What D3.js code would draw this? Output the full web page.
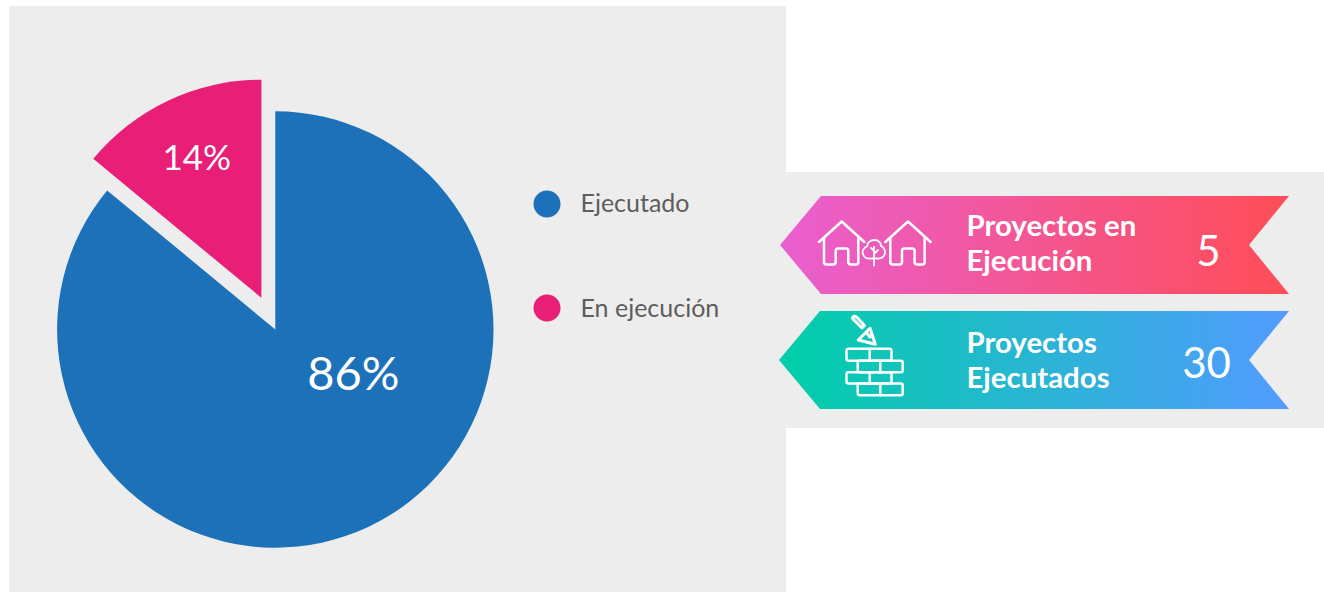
<!DOCTYPE html>
<html><head><meta charset="utf-8">
<script src="https://cdn.jsdelivr.net/npm/d3@7"></script>
<style>html,body{margin:0;padding:0;background:#fff;overflow:hidden}svg{display:block}text{font-family:Lato,sans-serif}</style>
</head><body><svg id="c" width="1324" height="592"></svg>
<script>
const categories = ["Ejecutado", "En ejecución"];
const shares = [86, 14];
const shareLabels = ["86%", "14%"];
const sliceColors = ["#1d71b8", "#e91e76"];
const ribbonLines = [["Proyectos en", "Ejecución"], ["Proyectos", "Ejecutados"]];
const ribbonValues = [5, 30];
const ribbonGradients = [["#e95fd0", "#ff4d57"], ["#00cfa8", "#529bff"]];

const svg = d3.select("#c");
const bg = "#ededed";
svg.append("rect").attr("x",9).attr("y",6).attr("width",777).attr("height",586).attr("fill",bg);
svg.append("rect").attr("x",786).attr("y",172).attr("width",538).attr("height",256).attr("fill",bg);

// Pie
const cx=275.3, cy=329.5, R=218.2, explode=35;
const arcs = d3.pie().sort(null).value(d=>d)(shares);
const arc = d3.arc().innerRadius(0).outerRadius(R);
const pie = svg.append("g").attr("transform",`translate(${cx},${cy})`);
const labelOffsets = [[78,60],[-78.5,-160]];
arcs.forEach((a,i)=>{
  const mid=(a.startAngle+a.endAngle)/2;
  const d = i===1?explode:0;
  const g = pie.append("g").attr("transform",`translate(${Math.sin(mid)*d+(i?1:0)},${-Math.cos(mid)*d})`);
  g.append("path").attr("d",arc(a)).attr("fill",sliceColors[i]);
});
const labelSizes=[47,35];
arcs.forEach((a,i)=>{
  pie.append("text").attr("x",labelOffsets[i][0]).attr("y",labelOffsets[i][1])
    .attr("text-anchor","middle").attr("fill","#fff").attr("font-size",labelSizes[i]).text(shareLabels[i]);
});

// Legend
const legendY = d3.scalePoint().domain(categories).range([204,308]);
categories.forEach((c,i)=>{
  svg.append("circle").attr("cx",547).attr("cy",legendY(c)).attr("r",13.5).attr("fill",sliceColors[i]);
  svg.append("text").attr("x",580.5).attr("y",legendY(c)+8+i).attr("font-size",25).attr("fill","#5e5e5d").text(c);
});

// Ribbons
const defs = svg.append("defs");
const ribbonShapes=[
  {l:780,n:821,r:1289,k:1249,t:196,b:294,ty:236,vy:266,vx:1208.5},
  {l:779,n:820,r:1289,k:1249,t:311,b:409,ty:352.5,vy:378,vx:1206.5}];
const ribbonLine=d3.line();
ribbonShapes.forEach((s,i)=>{
  const id="rg"+i;
  const lg=defs.append("linearGradient").attr("id",id).attr("gradientUnits","userSpaceOnUse")
    .attr("x1",s.l).attr("x2",s.r).attr("y1",0).attr("y2",0);
  lg.append("stop").attr("offset",0).attr("stop-color",ribbonGradients[i][0]);
  lg.append("stop").attr("offset",1).attr("stop-color",ribbonGradients[i][1]);
  const m=(s.t+s.b)/2;
  svg.append("path").attr("d",ribbonLine([[s.l,m],[s.n,s.t],[s.r,s.t],[s.k,m],[s.r,s.b],[s.n,s.b]])+"Z").attr("fill",`url(#${id})`);
  ribbonLines[i].forEach((t,j)=>{
    svg.append("text").attr("x",966.5).attr("y",s.ty+j*35).attr("font-size",29.4).attr("font-weight",700).attr("fill","#fff").text(t);
  });
  svg.append("text").attr("x",s.vx).attr("y",s.vy).attr("text-anchor","middle").attr("font-size",42).attr("fill","#fff").text(ribbonValues[i]);
});

// Icons
const ic = svg.append("g").attr("fill","none").attr("stroke","#fff").attr("stroke-width",2.5).attr("stroke-linecap","round").attr("stroke-linejoin","round");
const house="M819,242 L841.7,221.5 L864.3,242 M824,238 V262 Q824,264.5 826.5,264.5 H833 Q835.7,264.5 835.7,262 V251 Q835.7,248.5 838,248.5 H846 Q848.3,248.5 848.3,251 V262 Q848.3,264.5 851,264.5 H856 Q858.3,264.5 858.3,262 V238";
ic.append("path").attr("d",house);
ic.append("path").attr("d",house).attr("transform","translate(66.3,0)");
ic.append("path").attr("stroke-width",1.8).attr("d","M874,240 C869,240 867,244 867.5,246 C863,248 862,252 863,254 C864,258 868,259 871,258.5 C873,258.5 875,258.5 877,258.5 C881,259 885,257 885,252 C885,249 883,247 881,246 C881,243 879,240 874,240Z");
ic.append("path").attr("stroke-width",1.8).attr("d","M874,247 V265.5 M874,254 L878,250 M874,251 L871,248");
const bricks=ic.append("g");
[[846.5,348.7,891.5,360.7,869.7],[857.7,360.7,902.7,372.3,880.3],[846.5,372.3,891.5,383.5,869.7],[857.7,383.5,902.7,395.3,880.3]].forEach(r=>{
  bricks.append("rect").attr("x",r[0]).attr("y",r[1]).attr("width",r[2]-r[0]).attr("height",r[3]-r[1]).attr("rx",2);
  bricks.append("path").attr("d",`M${r[4]},${r[1]} V${r[3]}`);
});
ic.append("path").attr("stroke-width",3).attr("d","M858.3,340 L870,328.3 L875.3,344.3 Z M866,332 L870,337");
ic.append("path").attr("stroke-width",3).attr("d","M853,317 Q855,315.5 857,317.5 L864.5,325.5 L862,328 L854,320 Q852,318.5 853,317Z");
</script></body></html>
